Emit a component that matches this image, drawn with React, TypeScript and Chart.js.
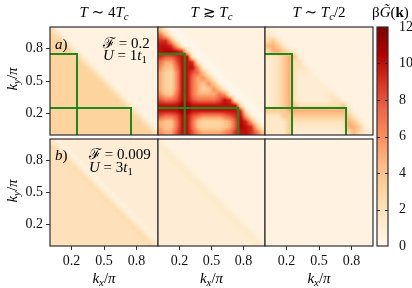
import React, { useEffect, useRef } from 'react';
import { Chart, registerables } from 'chart.js';

Chart.register(...registerables);

const W = 412;
const H = 288;
const FONT = '"Liberation Serif", "DejaVu Serif", serif';

// axis ticks (k / pi)
const K_TICKS = [0.2, 0.5, 0.8];
const K_TICK_LABELS = ['0.2', '0.5', '0.8'];
// colour bar
const CBAR_TICKS = [0, 2, 4, 6, 8, 10, 12];
const CBAR_MIN = 0;
const CBAR_MAX = 12;
const CMAP = ['#fff7ec', '#fee8c8', '#fdd49e', '#fdbb84', '#fc8d59', '#ef6548', '#d7301f', '#b30000', '#7f0000'];
const GREEN = '#1e8a1e';

// green patch outlines (k/pi units)
const GREEN_VERT = [{ x: 0, y: 0.75 }, { x: 0.25, y: 0.75 }, { x: 0.25, y: 0 }];
const GREEN_HORZ = [{ x: 0, y: 0.25 }, { x: 0.75, y: 0.25 }, { x: 0.75, y: 0 }];

// Heat-map grids: 20x20, rows from k_y = 1 (top) to k_y = 0 (bottom),
// columns k_x = 0 .. 1. Each character = value * 2 in base 36 ('O' = 12).
const GRID_A1 = [
  '41111111111111111111',
  '64111111111111111111',
  '66411111111111111111',
  '66641111111111111111',
  '66664111111111111111',
  '66666411111111111111',
  '66666641111111111111',
  '66666664111111111111',
  '66666666411111111111',
  '66666666641111111111',
  '66666666664111111111',
  '66666666666411111111',
  '66666666666641111111',
  '66666666666664111111',
  '66666666666666411111',
  '66666666666666641111',
  '66666666666666664111',
  '66666666666666666411',
  '66666666666666666641',
  '66666666666666666664',
];

const GRID_A2 = [
  '82001111111111111111',
  'E8200111111111111111',
  'IIA20011111111111111',
  'KKIA2001111111111111',
  'KLLKI400111111111111',
  'IGGIKK20011111111111',
  'EAAGKKI2001111111111',
  'C88EKKKC200111111111',
  'A66CKKGE820011111111',
  'A66CKKEAC82001111111',
  'A66CKKEA8C8200111111',
  'A66CKKEA68C820011111',
  'C88EKKEAAAAEC2001111',
  'GEEGKKGEEEEGKI200111',
  'KKKKMMKKKKKKKKK40011',
  'KKKKMMKKKKKKKKKI2001',
  'GEEGKKGECCCCEGIKA200',
  'A88EKKE866668AGLIA20',
  'A88EKKE866668AGLKI82',
  'CAAGKKGCAAAACEIKKIE8',
];

const GRID_A3 = [
  '21111111111111111111',
  '32111111111111111111',
  '57311111111111111111',
  '9A731111111111111111',
  '5AA74211111111111111',
  '3347A721111111111111',
  '2347A441111111111111',
  '2347A443111111111111',
  '2347A423211111111111',
  '2347A422221111111111',
  '2347A422222111111111',
  '2347A422222211111111',
  '2347A422222331111111',
  '2347A422222244111111',
  '2347A744444444721111',
  '7777AAAAAAAAAAA41111',
  '33377777777777773111',
  '333374444444444A7311',
  '333373333333333AA721',
  '33337222222222359532',
];

const GRID_B1 = [
  '31222222222222222222',
  '53122222222222222222',
  '45312222222222222222',
  '44531222222222222222',
  '44453122222222222222',
  '44445312222222222222',
  '44444531222222222222',
  '44444453122222222222',
  '44444445312222222222',
  '44444444531222222222',
  '44444444453122222222',
  '44444444445312222222',
  '44444444444531222222',
  '44444444444453122222',
  '44444444444445312222',
  '44444444444444531222',
  '44444444444444453122',
  '44444444444444445312',
  '44444444444444444531',
  '44444444444444444453',
];

const GRID_B2 = [
  '21111111111111111111',
  '32111111111111111111',
  '23211111111111111111',
  '22321111111111111111',
  '22232111111111111111',
  '22223211111111111111',
  '22222321111111111111',
  '22222232111111111111',
  '22222223211111111111',
  '22222222321111111111',
  '22222222232111111111',
  '22222222223211111111',
  '22222222222321111111',
  '22222222222232111111',
  '22222222222223211111',
  '22222222222222321111',
  '22222222222222232111',
  '22222222222222223211',
  '22222222222222222321',
  '22222222222222222232',
];

const GRID_B3 = [
  '11111111111111111111',
  '11111111111111111111',
  '11111111111111111111',
  '11111111111111111111',
  '11111111111111111111',
  '11111111111111111111',
  '11111111111111111111',
  '11111111111111111111',
  '11111111111111111111',
  '11111111111111111111',
  '11111111111111111111',
  '11111111111111111111',
  '11111111111111111111',
  '11111111111111111111',
  '11111111111111111111',
  '11111111111111111111',
  '11111111111111111111',
  '11111111111111111111',
  '11111111111111111111',
  '11111111111111111111',
];

// layout (pixels)
const COL_X = [[50, 158], [158, 265], [265, 373]];
const ROW_Y = [[27, 135], [139, 246]];
const CBAR_X = [377, 388];
const YW = 40;
const XH = 24;

const PANELS = [
  { grid: GRID_A1, col: 0, row: 0, green: true },
  { grid: GRID_A2, col: 1, row: 0, green: true },
  { grid: GRID_A3, col: 2, row: 0, green: true },
  { grid: GRID_B1, col: 0, row: 1, green: false },
  { grid: GRID_B2, col: 1, row: 1, green: false },
  { grid: GRID_B3, col: 2, row: 1, green: false },
];

function hexToRgb(h: string) {
  return [parseInt(h.slice(1, 3), 16), parseInt(h.slice(3, 5), 16), parseInt(h.slice(5, 7), 16)];
}
const CMAP_RGB = CMAP.map(hexToRgb);
function colorFor(v: number) {
  let t = (v - CBAR_MIN) / (CBAR_MAX - CBAR_MIN);
  t = Math.max(0, Math.min(1, t));
  const p = t * (CMAP_RGB.length - 1);
  const i = Math.min(Math.floor(p), CMAP_RGB.length - 2);
  const f = p - i;
  const a = CMAP_RGB[i];
  const b = CMAP_RGB[i + 1];
  return [0, 1, 2].map((k) => Math.round(a[k] + (b[k] - a[k]) * f));
}

function gridToCells(rows: string[]) {
  const n = rows.length;
  const cells: { x: number; y: number; v: number }[] = [];
  rows.forEach((row, r) => {
    for (let c = 0; c < row.length; c++) {
      cells.push({ x: (c + 0.5) / n, y: 1 - (r + 0.5) / n, v: parseInt(row[c], 36) / 2 });
    }
  });
  return cells;
}

// draws the grid cells of dataset 0 as a smoothly resampled image (like imshow)
const heatPlugin = {
  id: 'heatmap',
  beforeDatasetsDraw(chart: any) {
    const cells = chart.data.datasets[0].data as { x: number; y: number; v: number }[];
    const n = Math.round(Math.sqrt(cells.length));
    const vals = new Array(n * n).fill(0);
    for (const c of cells) {
      const i = Math.round(c.x * n - 0.5);
      const j = Math.round((1 - c.y) * n - 0.5);
      vals[j * n + i] = c.v;
    }
    const xs = chart.scales.x;
    const ys = chart.scales.y;
    const x0 = Math.round(xs.getPixelForValue(0));
    const x1 = Math.round(xs.getPixelForValue(1));
    const y0 = Math.round(ys.getPixelForValue(1));
    const y1 = Math.round(ys.getPixelForValue(0));
    const w = x1 - x0;
    const h = y1 - y0;
    const ctx = chart.ctx;
    const img = ctx.createImageData(w, h);
    const at = (i: number, j: number) =>
      vals[Math.max(0, Math.min(n - 1, j)) * n + Math.max(0, Math.min(n - 1, i))];
    for (let py = 0; py < h; py++) {
      const gy = ((py + 0.5) / h) * n - 0.5;
      const j0 = Math.floor(gy);
      const fy = gy - j0;
      for (let px = 0; px < w; px++) {
        const gx = ((px + 0.5) / w) * n - 0.5;
        const i0 = Math.floor(gx);
        const fx = gx - i0;
        const v =
          at(i0, j0) * (1 - fx) * (1 - fy) +
          at(i0 + 1, j0) * fx * (1 - fy) +
          at(i0, j0 + 1) * (1 - fx) * fy +
          at(i0 + 1, j0 + 1) * fx * fy;
        const rgb = colorFor(v);
        const k = (py * w + px) * 4;
        img.data[k] = rgb[0];
        img.data[k + 1] = rgb[1];
        img.data[k + 2] = rgb[2];
        img.data[k + 3] = 255;
      }
    }
    ctx.putImageData(img, x0, y0);
  },
  afterDatasetsDraw(chart: any) {
    const { left, top, right, bottom } = chart.chartArea;
    const ctx = chart.ctx;
    ctx.save();
    ctx.strokeStyle = '#2e2e2e';
    ctx.lineWidth = 1.2;
    ctx.strokeRect(left, top, right - left, bottom - top);
    ctx.restore();
  },
};

function kAxis(show: boolean, fit: (s: any) => void) {
  return {
    type: 'linear',
    min: 0,
    max: 1,
    afterBuildTicks: (s: any) => {
      s.ticks = K_TICKS.map((v) => ({ value: v }));
    },
    afterFit: fit,
    ticks: {
      display: show,
      autoSkip: false,
      maxRotation: 0,
      padding: 3,
      color: '#111',
      font: { family: FONT, size: 14 },
      callback: (v: any) => {
        const k = K_TICKS.indexOf(Number(v));
        return k >= 0 ? K_TICK_LABELS[k] : '';
      },
    },
    grid: { display: show, drawOnChartArea: false, drawTicks: true, tickLength: 4, tickColor: '#333', tickWidth: 1 },
    border: { display: false },
  };
}

function HeatPanel({ grid, col, row, green }: { grid: string[]; col: number; row: number; green: boolean }) {
  const ref = useRef<HTMLCanvasElement>(null);
  useEffect(() => {
    const [l, r] = COL_X[col];
    const [t, b] = ROW_Y[row];
    const showX = row === 1;
    const showY = col === 0;
    const datasets: any[] = [
      { data: gridToCells(grid), pointRadius: 0, pointHoverRadius: 0, showLine: false },
    ];
    if (green) {
      [GREEN_VERT, GREEN_HORZ].forEach((d) =>
        datasets.push({ data: d, showLine: true, borderColor: GREEN, borderWidth: 2, pointRadius: 0, fill: false, tension: 0 })
      );
    }
    const chart = new Chart(ref.current!, {
      type: 'scatter',
      data: { datasets },
      options: {
        responsive: false,
        animation: false,
        devicePixelRatio: 1,
        events: [],
        layout: { padding: { left: l - YW, top: t, right: W - r, bottom: H - b - XH } },
        plugins: { legend: { display: false }, tooltip: { enabled: false } },
        scales: {
          x: kAxis(showX, (s: any) => { s.height = XH; }) as any,
          y: kAxis(showY, (s: any) => { s.width = YW; }) as any,
        },
      },
      plugins: [heatPlugin],
    });
    return () => chart.destroy();
  }, []);
  return <canvas ref={ref} width={W} height={H} style={{ position: 'absolute', left: 0, top: 0, width: W, height: H }} />;
}

const cbarPlugin = {
  id: 'cbar',
  beforeDatasetsDraw(chart: any) {
    const ys = chart.scales.y;
    const { left, right } = chart.chartArea;
    const yb = ys.getPixelForValue(CBAR_MIN);
    const yt = ys.getPixelForValue(CBAR_MAX);
    const ctx = chart.ctx;
    ctx.save();
    const grad = ctx.createLinearGradient(0, yb, 0, yt);
    CMAP.forEach((c, k) => grad.addColorStop(k / (CMAP.length - 1), c));
    ctx.fillStyle = grad;
    ctx.fillRect(left, yt, right - left, yb - yt);
    ctx.strokeStyle = '#222';
    ctx.lineWidth = 1;
    for (const v of CBAR_TICKS) {
      if (v === CBAR_MIN || v === CBAR_MAX) continue;
      const y = Math.round(ys.getPixelForValue(v)) + 0.5;
      ctx.beginPath();
      ctx.moveTo(left, y);
      ctx.lineTo(left + 3, y);
      ctx.moveTo(right - 3, y);
      ctx.lineTo(right, y);
      ctx.stroke();
    }
    ctx.strokeStyle = '#2e2e2e';
    ctx.lineWidth = 1.2;
    ctx.strokeRect(left, yt, right - left, yb - yt);
    ctx.restore();
  },
};

function ColorBar() {
  const ref = useRef<HTMLCanvasElement>(null);
  useEffect(() => {
    const cbW = W - CBAR_X[1];
    const chart = new Chart(ref.current!, {
      type: 'scatter',
      data: { datasets: [] },
      options: {
        responsive: false,
        animation: false,
        devicePixelRatio: 1,
        events: [],
        layout: { padding: { left: CBAR_X[0], top: ROW_Y[0][0], right: 0, bottom: H - ROW_Y[1][1] } },
        plugins: { legend: { display: false }, tooltip: { enabled: false } },
        scales: {
          x: { display: false, min: 0, max: 1 },
          y: {
            position: 'right',
            min: CBAR_MIN,
            max: CBAR_MAX,
            afterBuildTicks: (s: any) => {
              s.ticks = CBAR_TICKS.map((v) => ({ value: v }));
            },
            afterFit: (s: any) => { s.width = cbW; },
            ticks: { padding: 3, color: '#111', font: { family: FONT, size: 14 }, autoSkip: false },
            grid: { display: false },
            border: { display: false },
          } as any,
        },
      },
      plugins: [cbarPlugin],
    });
    return () => chart.destroy();
  }, []);
  return <canvas ref={ref} width={W} height={H} style={{ position: 'absolute', left: 0, top: 0, width: W, height: H }} />;
}

const Sub = ({ children }: { children: any }) => (
  <sub style={{ fontSize: '0.72em', verticalAlign: '-0.3em', lineHeight: 0 }}>{children}</sub>
);

function Txt({ x, y, anchor = 'c', rotate = false, size = 15, children }: any) {
  const tx = anchor === 'c' ? '-50%' : anchor === 'r' ? '-100%' : '0';
  return (
    <div
      style={{
        position: 'absolute',
        left: x,
        top: y,
        transform: `translate(${tx}, -50%)${rotate ? ' rotate(-90deg)' : ''}`,
        whiteSpace: 'nowrap',
        fontSize: size,
        lineHeight: 1,
        fontFamily: FONT,
      }}
    >
      {children}
    </div>
  );
}

const KLabel = ({ axis }: { axis: string }) => (
  <span>
    <i>k</i>
    <Sub><i>{axis}</i></Sub>/<i>π</i>
  </span>
);

export default function App() {
  const colCenters = COL_X.map(([a, b]) => (a + b) / 2);
  return (
    <div
      style={{
        position: 'absolute',
        left: 0,
        top: 0,
        width: W,
        height: H,
        background: '#fff',
        overflow: 'hidden',
        color: '#000',
        fontFamily: FONT,
      }}
    >
      {PANELS.map((p, k) => (
        <HeatPanel key={k} {...p} />
      ))}
      <ColorBar />

      <Txt x={colCenters[0]} y={12}>
        <i>T</i> ∼ 4<i>T</i><Sub><i>c</i></Sub>
      </Txt>
      <Txt x={colCenters[1]} y={12}>
        <i>T</i> ≳ <i>T</i><Sub><i>c</i></Sub>
      </Txt>
      <Txt x={colCenters[2]} y={12}>
        <i>T</i> ∼ <i>T</i><Sub><i>c</i></Sub>/2
      </Txt>
      <Txt x={372} y={12} anchor="l">
        β<i>G̃</i>(<b>k</b>)
      </Txt>

      <Txt x={12} y={79} rotate>
        <KLabel axis="y" />
      </Txt>
      <Txt x={12} y={191} rotate>
        <KLabel axis="y" />
      </Txt>
      {colCenters.map((cx, k) => (
        <Txt key={k} x={cx} y={278}>
          <KLabel axis="x" />
        </Txt>
      ))}

      <Txt x={55} y={44} anchor="l">
        <i>a</i>)
      </Txt>
      <Txt x={103} y={43} anchor="l">
        ℱ = 0.2
      </Txt>
      <Txt x={103} y={55} anchor="l">
        <i>U</i> = 1<i>t</i><Sub>1</Sub>
      </Txt>
      <Txt x={55} y={155} anchor="l">
        <i>b</i>)
      </Txt>
      <Txt x={89} y={154} anchor="l">
        ℱ = 0.009
      </Txt>
      <Txt x={89} y={167} anchor="l">
        <i>U</i> = 3<i>t</i><Sub>1</Sub>
      </Txt>
    </div>
  );
}
